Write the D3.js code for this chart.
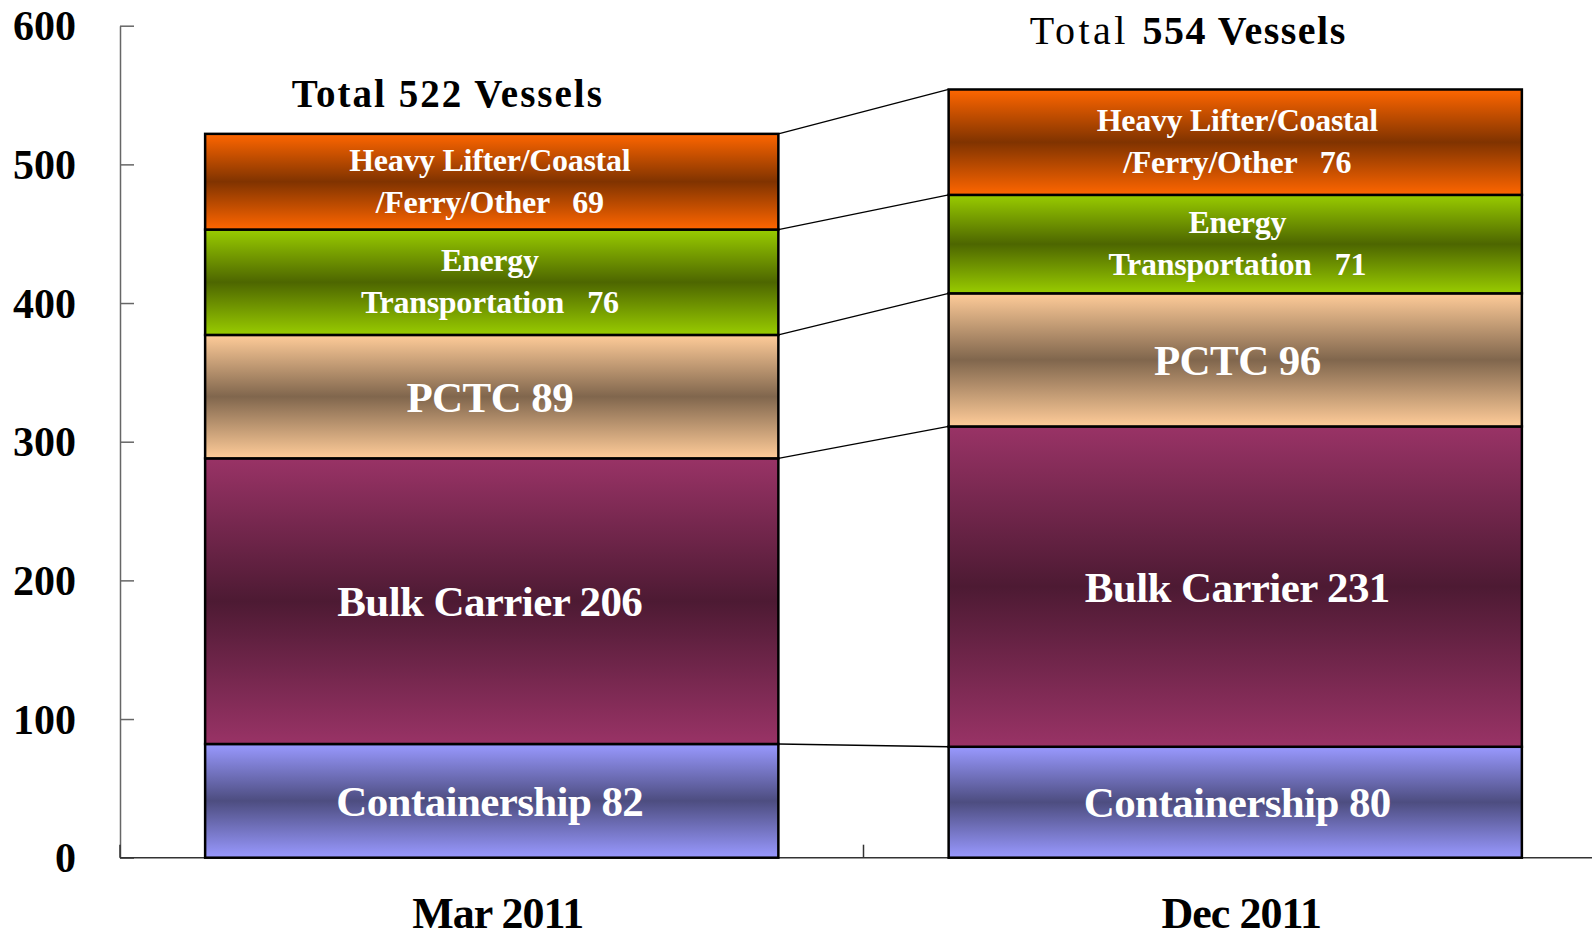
<!DOCTYPE html>
<html>
<head>
<meta charset="utf-8">
<script src="https://cdn.jsdelivr.net/npm/d3@7"></script>
<style>
  html, body { margin: 0; padding: 0; background: #fff; }
  svg { display: block; }
  text { font-family: "Liberation Serif", "Times New Roman", serif; white-space: pre; }
</style>
</head>
<body>
<svg id="chart" width="1592" height="939"></svg>
<script>
// ---- data ----
const categories = ["Mar 2011", "Dec 2011"];
const seriesNames = ["Containership", "Bulk Carrier", "PCTC", "Energy Transportation", "Heavy Lifter/Coastal/Ferry/Other"];
const containership = [82, 80];
const bulkCarrier = [206, 231];
const pctc = [89, 96];
const energyTransportation = [76, 71];
const heavyLifterOther = [69, 76];
const totals = [522, 554];
const yTicks = [0, 100, 200, 300, 400, 500, 600];
// label lines per series ({v} = value)
const labelLines = [
  ["Containership {v}"],
  ["Bulk Carrier {v}"],
  ["PCTC {v}"],
  ["Energy", "Transportation   {v}"],
  ["Heavy Lifter/Coastal", "/Ferry/Other   {v}"]
];
const edgeColors = ["#9999FF", "#993366", "#FFCC99", "#99CC00", "#FF6600"];
const midColors  = ["#4D4D80", "#4D1A33", "#80664D", "#4D6600", "#803300"];

const seriesValues = [containership, bulkCarrier, pctc, energyTransportation, heavyLifterOther];

// ---- layout ----
const svg = d3.select("#chart");
const x = d3.scaleBand().domain(categories).range([120, 1607]).padding(0);
const y = d3.scaleLinear().domain([0, 600]).range([857.7, 25.7]);
const barW = x.bandwidth() * 0.771;

// gradients
const defs = svg.append("defs");
seriesNames.forEach((s, i) => {
  const g = defs.append("linearGradient").attr("id", "grad" + i)
    .attr("x1", 0).attr("y1", 0).attr("x2", 0).attr("y2", 1);
  g.append("stop").attr("offset", "0%").attr("stop-color", edgeColors[i]);
  g.append("stop").attr("offset", "50%").attr("stop-color", midColors[i]);
  g.append("stop").attr("offset", "100%").attr("stop-color", edgeColors[i]);
});

// stacked data
const rows = categories.map((c, ci) => {
  const r = { cat: c };
  seriesNames.forEach((s, si) => r[s] = seriesValues[si][ci]);
  return r;
});
const stacked = d3.stack().keys(seriesNames)(rows);

// connector lines between bars
const boundaries = stacked.map(layer => [layer[0][1], layer[1][1]]);
svg.append("g").selectAll("line").data(boundaries).join("line")
  .attr("x1", x(categories[0]) + x.bandwidth() / 2 + barW / 2)
  .attr("x2", x(categories[1]) + x.bandwidth() / 2 - barW / 2)
  .attr("y1", d => y(d[0]))
  .attr("y2", d => y(d[1]))
  .attr("stroke", "#000").attr("stroke-width", 1.3);

// axes
const yAxis = d3.axisLeft(y).tickValues(yTicks).tickSizeInner(-14).tickSizeOuter(0).tickPadding(44);
const gy = svg.append("g").attr("transform", "translate(120,0)").call(yAxis);
gy.select(".domain").attr("stroke", "#666").attr("stroke-width", 1.5);
gy.selectAll(".tick line").attr("stroke", "#666").attr("stroke-width", 1.5);
gy.selectAll(".tick text")
  .attr("font-family", '"Liberation Serif", "Times New Roman", serif')
  .attr("font-size", 42).attr("font-weight", "bold").attr("fill", "#000")
  .attr("dy", "0.34em");

// x axis baseline and category separators
svg.append("line").attr("x1", 120).attr("x2", 1592)
  .attr("y1", y(0)).attr("y2", y(0)).attr("stroke", "#333").attr("stroke-width", 1.5);
const sepX = categories.map(c => x(c)).concat([x.range()[1]]);
svg.append("g").selectAll("line").data(sepX).join("line")
  .attr("x1", d => d).attr("x2", d => d)
  .attr("y1", y(0)).attr("y2", y(0) - 13)
  .attr("stroke", "#333").attr("stroke-width", 1.5);

// category labels
svg.append("g").selectAll("text").data(categories).join("text")
  .attr("x", d => x(d) + x.bandwidth() / 2 + 6)
  .attr("y", 928)
  .attr("text-anchor", "middle")
  .attr("font-size", 44).attr("font-weight", "bold").attr("letter-spacing", "-1px")
  .attr("fill", "#000")
  .text(d => d);

// bars
const layerG = svg.append("g").selectAll("g").data(stacked).join("g")
  .attr("fill", (d, i) => "url(#grad" + i + ")");
layerG.selectAll("rect").data(d => d).join("rect")
  .attr("x", d => x(d.data.cat) + x.bandwidth() / 2 - barW / 2)
  .attr("width", barW)
  .attr("y", d => y(d[1]))
  .attr("height", d => y(d[0]) - y(d[1]))
  .attr("stroke", "#000").attr("stroke-width", 2.5);

// segment labels
const labelDx = [-2, 2];
stacked.forEach((layer, si) => {
  const lines = labelLines[si];
  const multi = lines.length > 1;
  layer.forEach((d, ci) => {
    const cx = x(d.data.cat) + x.bandwidth() / 2 + labelDx[ci];
    const cy = (y(d[0]) + y(d[1])) / 2;
    const v = seriesValues[si][ci];
    const t = svg.append("text")
      .attr("text-anchor", "middle")
      .attr("fill", "#fff")
      .attr("font-weight", "bold")
      .attr("font-size", multi ? 32 : 43)
      .attr("letter-spacing", multi ? "-0.3px" : "-0.6px");
    lines.forEach((ln, li) => {
      const off = multi ? (li === 0 ? -22 : 20) : 0;
      t.append("tspan")
        .attr("x", cx)
        .attr("y", cy + off)
        .attr("dy", "0.35em")
        .text(ln.replace("{v}", v));
    });
  });
});

// totals
const titleCfg = [
  { dx: -44, dy: -27, size: 39 },
  { dx: -47, dy: -45.5, size: 40 }
];
categories.forEach((c, ci) => {
  const cfg = titleCfg[ci];
  const t = svg.append("text")
    .attr("x", x(c) + x.bandwidth() / 2 + cfg.dx)
    .attr("y", y(totals[ci]) + cfg.dy)
    .attr("text-anchor", "middle")
    .attr("font-size", cfg.size)
    .attr("fill", "#000");
  if (ci === 0) {
    t.attr("font-weight", "bold").attr("letter-spacing", "2px")
     .text("Total " + totals[ci] + " Vessels");
  } else {
    t.append("tspan").attr("font-weight", "normal").attr("letter-spacing", "3.5px").text("Total ");
    t.append("tspan").attr("font-weight", "bold").attr("letter-spacing", "1.5px").text(totals[ci] + " Vessels");
  }
});
</script>
</body>
</html>
